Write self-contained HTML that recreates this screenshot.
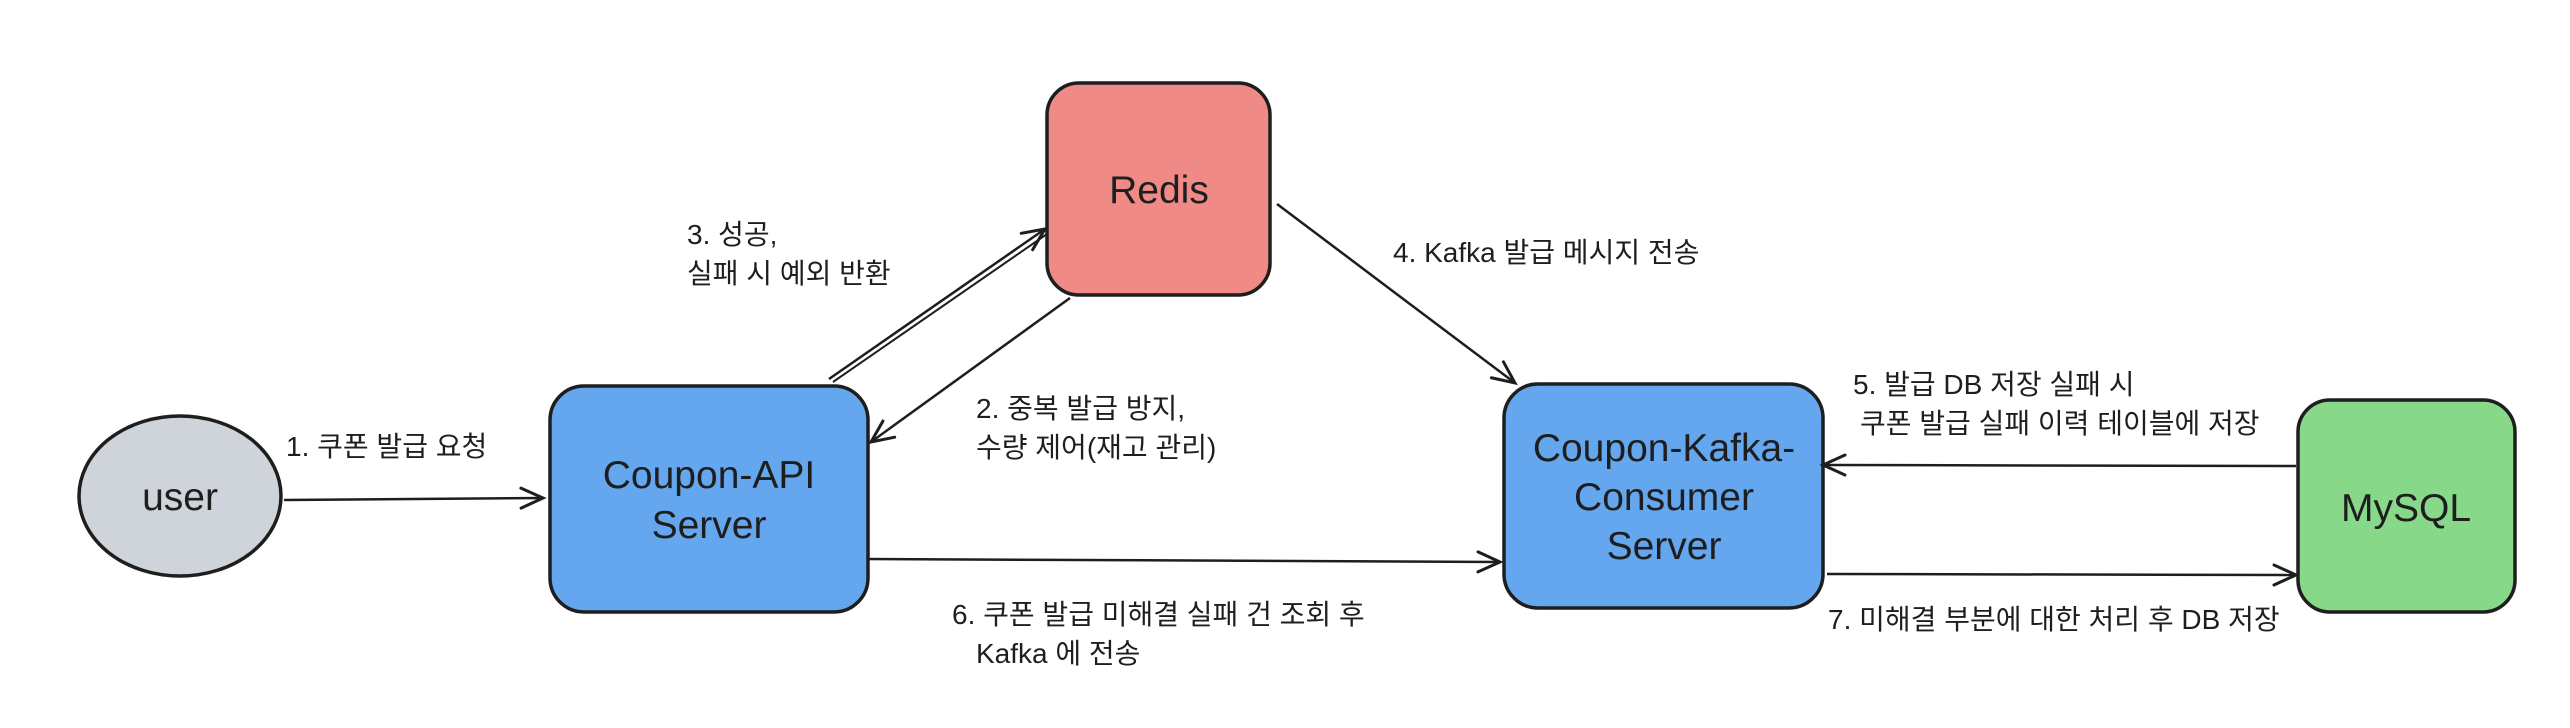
<!DOCTYPE html>
<html><head><meta charset="utf-8"><style>
html,body{margin:0;padding:0;background:#fff;width:2570px;height:728px;overflow:hidden}
svg text{font-family:"Liberation Sans","Noto Sans CJK KR",sans-serif;fill:#1e1e1e}
.n{font-size:39px;text-anchor:middle}
.l{font-size:28px}
</style></head><body>
<svg width="2570" height="728" viewBox="0 0 2570 728" xmlns="http://www.w3.org/2000/svg">
<defs><marker id="a" markerWidth="30" markerHeight="30" refX="24" refY="12" orient="auto" markerUnits="userSpaceOnUse"><path d="M2,2 L24,12 L2,22" fill="none" stroke="#1e1e1e" stroke-width="3" stroke-linecap="round"/></marker></defs>
<g stroke="#1e1e1e" stroke-width="3.5">
<ellipse cx="180" cy="496" rx="101" ry="80" fill="#ced4da"/>
<rect x="550" y="386" width="318" height="226" rx="34" fill="#64a7ef"/>
<rect x="1047" y="83" width="223" height="212" rx="32" fill="#ef8a87"/>
<rect x="1504" y="384" width="319" height="224" rx="34" fill="#64a7ef"/>
<rect x="2298" y="400" width="217" height="212" rx="32" fill="#87d888"/>
</g>
<g stroke="#1e1e1e" stroke-width="2.5" fill="none" marker-end="url(#a)">
<line x1="284" y1="500" x2="543" y2="498"/>
<line x1="829" y1="379" x2="1045" y2="229"/>
<line x1="1070" y1="298" x2="871" y2="442"/>
<line x1="868" y1="559" x2="1500" y2="562"/>
<line x1="1277" y1="204" x2="1515" y2="383"/>
<line x1="2296" y1="466" x2="1823" y2="465"/>
<line x1="1827" y1="574" x2="2296" y2="575"/>
</g>
<line x1="833" y1="382" x2="1047" y2="234" stroke="#1e1e1e" stroke-width="2"/>
<text class="n" x="180" y="510">user</text>
<text class="n" x="709" y="488">Coupon-API</text>
<text class="n" x="709" y="538">Server</text>
<text class="n" x="1159" y="203">Redis</text>
<text class="n" x="1664" y="461">Coupon-Kafka-</text>
<text class="n" x="1664" y="510">Consumer</text>
<text class="n" x="1664" y="559">Server</text>
<text class="n" x="2406" y="521">MySQL</text>
<text class="l" x="286" y="456">1. 쿠폰 발급 요청</text>
<text class="l" x="687" y="244">3. 성공,</text>
<text class="l" x="687" y="283">실패 시 예외 반환</text>
<text class="l" x="976" y="418">2. 중복 발급 방지,</text>
<text class="l" x="976" y="457">수량 제어(재고 관리)</text>
<text class="l" x="1393" y="262">4. Kafka 발급 메시지 전송</text>
<text class="l" x="952" y="624">6. 쿠폰 발급 미해결 실패 건 조회 후</text>
<text class="l" x="976" y="663">Kafka 에 전송</text>
<text class="l" x="1853" y="394">5. 발급 DB 저장 실패 시</text>
<text class="l" x="1860" y="433">쿠폰 발급 실패 이력 테이블에 저장</text>
<text class="l" x="1828" y="629">7. 미해결 부분에 대한 처리 후 DB 저장</text>
</svg>
</body></html>
